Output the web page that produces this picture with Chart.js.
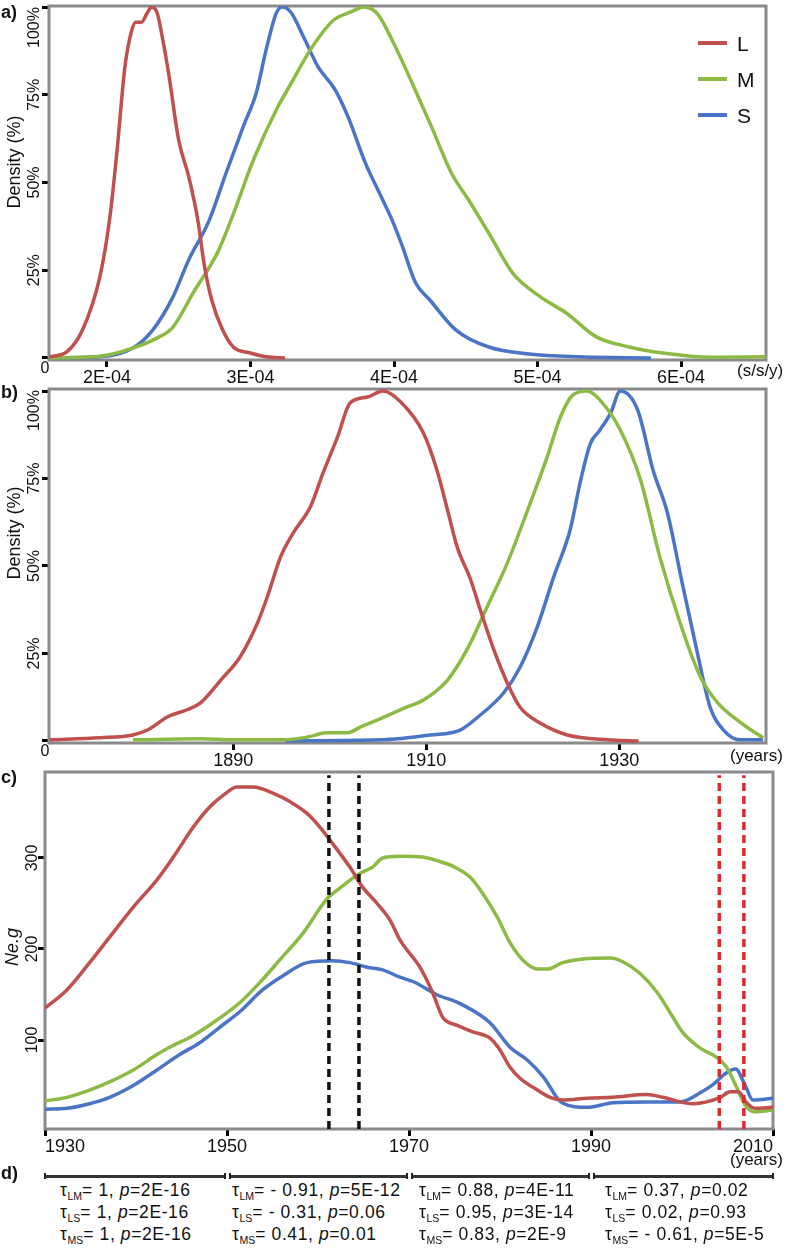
<!DOCTYPE html>
<html>
<head>
<meta charset="utf-8">
<script src="https://cdn.jsdelivr.net/npm/chart.js@4.4.1/dist/chart.umd.min.js"></script>
<style>
  body { margin: 0; background: #fff; font-family: "Liberation Sans", Arial, Helvetica, sans-serif; color: #111; }
  #page { position: relative; width: 787px; height: 1248px; overflow: hidden; }
  canvas { position: absolute; left: 0; }
  .txt { position: absolute; line-height: 1; white-space: nowrap; }
  .panel { font-size: 18px; font-weight: bold; }
  .ytitle { font-size: 18px; transform: translate(-50%, -50%) rotate(-90deg); }
  .unit { font-size: 17px; }
  .legend { position: absolute; left: 698px; top: 30px; margin: 0; padding: 0; list-style: none; }
  .legend li { position: relative; height: 36px; font-size: 21px; }
  .legend i { position: absolute; left: 0; top: 11px; width: 29px; height: 4px; }
  .legend span { position: absolute; left: 39px; top: 2px; }
  .seg { position: absolute; top: 1173px; height: 6px; border-left: 2px solid #222; border-right: 2px solid #222; }
  .seg::after { content: ""; position: absolute; left: 0; right: 0; top: 2px; height: 2.5px; background: #333; }
  .stats { position: absolute; top: 1179px; font-size: 17.5px; line-height: 22px; letter-spacing: 0.6px; white-space: nowrap; }
  .stats sub { font-size: 10.5px; line-height: 0; vertical-align: -4px; letter-spacing: 0; }
</style>
</head>
<body>
<div id="page">
  <canvas id="chart-a" width="787" height="386" style="top:0"></canvas>
  <canvas id="chart-b" width="787" height="384" style="top:386px"></canvas>
  <canvas id="chart-c" width="787" height="390" style="top:770px"></canvas>

  <div class="txt panel" style="left:1px;top:3px">a)</div>
  <div class="txt panel" style="left:1px;top:383px">b)</div>
  <div class="txt panel" style="left:1px;top:768px">c)</div>
  <div class="txt panel" style="left:1px;top:1164px">d)</div>

  <div class="txt ytitle" style="left:14px;top:162px">Density (%)</div>
  <div class="txt ytitle" style="left:14px;top:533px">Density (%)</div>
  <div class="txt ytitle" style="left:12px;top:947px"><i>Ne.g</i></div>

  <div class="txt unit" style="left:737px;top:362px">(s/s/y)</div>
  <div class="txt unit" style="left:730px;top:747px">(years)</div>
  <div class="txt unit" style="left:730px;top:1151px">(years)</div>

  <ul class="legend" id="legend-a"></ul>
  <div id="stats-d"></div>
</div>

<script>
/* ------------------------------
 * colours + fonts
 * ------------------------------ */
const COLORS = { L: '#c0504d', M: '#8cbb45', S: '#4a74c6' };
const DASH_BLACK = '#111';
const DASH_RED = '#dd2a30';
const FONT = '"Liberation Sans", Arial, Helvetica, sans-serif';

/* ------------------------------
 * a) substitution rate (x in units of 1E-04 s/s/y)
 * ------------------------------ */
const A_X_TICKS = [2, 3, 4, 5, 6];
const A_Y_TICKS = [0, 25, 50, 75, 100];

const A_L_X = [1.60, 1.72, 1.83, 1.95, 2.02, 2.07, 2.125, 2.17, 2.20, 2.24, 2.28, 2.31, 2.35, 2.38, 2.43, 2.50, 2.57, 2.63, 2.68, 2.73, 2.80, 2.88, 3.00, 3.11, 3.24];
const A_L_Y = [0.3, 1.7, 8, 23, 40, 59, 83, 93, 95.7, 95.7, 98.3, 100, 98.3, 92.6, 81, 62, 51.6, 40, 26, 16.5, 8.5, 3.1, 1.4, 0.3, 0];

const A_M_X = [1.60, 1.95, 2.18, 2.35, 2.46, 2.60, 2.77, 2.88, 3.02, 3.19, 3.28, 3.42, 3.58, 3.70, 3.79, 3.89, 4.01, 4.13, 4.26, 4.40, 4.52, 4.66, 4.83, 5.02, 5.20, 5.41, 5.64, 5.87, 6.22, 6.59];
const A_M_Y = [0, 0.5, 2.8, 5.7, 8.8, 18.5, 30, 41, 56.4, 71.5, 78, 88, 96.3, 98.6, 100, 97.8, 88.6, 78, 66, 52.7, 45, 35.6, 24, 17.4, 12.8, 6, 3.1, 1.4, 0.2, 0.3];

const A_S_X = [1.60, 1.95, 2.18, 2.32, 2.46, 2.57, 2.71, 2.83, 2.95, 3.04, 3.11, 3.18, 3.22, 3.28, 3.38, 3.47, 3.59, 3.68, 3.80, 3.91, 3.99, 4.06, 4.15, 4.25, 4.43, 4.66, 4.94, 5.29, 5.79];
const A_S_Y = [0, 0.3, 2.8, 8, 17.4, 28, 39, 52.7, 66, 75.5, 88, 98.3, 100, 98.6, 90.6, 83, 76.4, 68.7, 55.6, 46, 39, 31.6, 21.4, 16.5, 8, 3.1, 1.1, 0.3, 0];

/* ------------------------------
 * b) root age (years)
 * ------------------------------ */
const B_X_TICKS = [1890, 1910, 1930];
const B_Y_TICKS = [0, 25, 50, 75, 100];

const B_L_X = [1871, 1876.2, 1879.6, 1881.1, 1883.2, 1885.2, 1886.6, 1888.7, 1890.7, 1892.5, 1893.5, 1894.9, 1896.2, 1898, 1899.3, 1900.8, 1902.1, 1903.9, 1905.5, 1907.3, 1909.7, 1911.1, 1912.2, 1913.2, 1914.6, 1915.6, 1917, 1918.4, 1919.7, 1921.8, 1924.6, 1928.8, 1932];
const B_L_Y = [0.3, 0.9, 1.7, 3.1, 6.9, 8.9, 10.9, 17.4, 24, 33.7, 41, 52.6, 59.4, 67, 76.6, 86.9, 96.6, 98.3, 100, 97, 88, 77.4, 66, 55.4, 46, 37.4, 26, 16.5, 9.7, 5.1, 1.7, 0.3, 0];

const B_M_X = [1879.6, 1886.6, 1890, 1895.2, 1897.7, 1899.7, 1901.8, 1903.2, 1905.2, 1908, 1909.7, 1912.2, 1914.2, 1916.3, 1918.4, 1920.5, 1922.5, 1923.9, 1925.2, 1926.7, 1928, 1930.1, 1932.2, 1934.2, 1936.3, 1938.4, 1940.2, 1942.5, 1944.9];
const B_M_Y = [0.3, 0.6, 0.3, 0.3, 1.1, 2.3, 2.3, 4, 6.3, 9.7, 11.7, 17.4, 26, 38.3, 50.9, 66, 81, 92.6, 98.9, 100, 97.4, 88.9, 74.6, 52.6, 33.7, 18.3, 10.9, 5.4, 0.9];

const B_S_X = [1895.4, 1905.2, 1910.4, 1913.5, 1915.6, 1918, 1919.7, 1921.5, 1923.2, 1924.9, 1926, 1927, 1928, 1929.1, 1930.1, 1931.9, 1933.5, 1935, 1936.6, 1938.1, 1939.4, 1940.8, 1942.5, 1944.9];
const B_S_Y = [0, 0.3, 1.7, 3.1, 7.4, 13.7, 21, 32.6, 46.9, 60.3, 74.6, 85, 88.9, 93.7, 100, 94.6, 77.4, 65, 44, 25, 9.7, 3.1, 0.3, 0.3];

/* ------------------------------
 * c) Ne.g through time
 * ------------------------------ */
const C_X_TICKS = [1930, 1950, 1970, 1990, 2010];
const C_Y_TICKS = [100, 200, 300];
const C_BLACK_MARKS = [1961.2, 1964.5];
const C_RED_MARKS = [2004.1, 2006.8];

const C_L_X = [1930, 1932.4, 1934.9, 1937.1, 1939.7, 1942.3, 1944.1, 1946.3, 1948.1, 1949.6, 1951.1, 1952.9, 1955.1, 1956.9, 1958.8, 1960.2, 1961.6, 1963.5, 1964.9, 1966.5, 1967.9, 1969, 1971.2, 1972.6, 1973.7, 1975.3, 1977, 1978.9, 1980, 1981.1, 1982.2, 1984.1, 1985.5, 1986.9, 1989.6, 1992.4, 1996.1, 1997.9, 1999.8, 2001.2, 2002.7, 2004.2, 2005.3, 2006.2, 2007.1, 2008, 2010];
const C_L_Y = [135, 155, 185, 213, 246, 276, 301, 334, 356, 369, 378, 378, 371, 362, 349, 334, 316, 290, 268, 250, 232, 210, 180, 152, 125, 116, 109, 102, 89, 70, 58, 45, 37, 34, 36, 37, 40, 37, 32, 30, 32, 37, 43, 43, 31, 25, 26];

const C_M_X = [1930, 1932.4, 1934.9, 1937.1, 1939.7, 1942.3, 1943.7, 1946.3, 1948.9, 1951.4, 1953.6, 1955.8, 1958.4, 1960.9, 1962.4, 1964.6, 1966, 1967.1, 1969, 1971.5, 1973.4, 1974.8, 1976.7, 1978.1, 1979.7, 1981.1, 1982.5, 1984.1, 1985.2, 1986.9, 1989.1, 1992.1, 1993.5, 1995.4, 1997.3, 1998.7, 2000.1, 2002, 2003.8, 2004.9, 2006, 2006.9, 2008, 2010];
const C_M_Y = [33, 37, 45, 54, 67, 84, 92, 105, 122, 141, 163, 188, 218, 254, 267, 283, 290, 300, 302, 301, 296, 291, 279, 261, 235, 207, 188, 178, 178, 185, 189, 190, 186, 173, 152, 130, 108, 91, 81, 70, 48, 29, 21, 23];

const C_S_X = [1930, 1932.4, 1934.9, 1937.1, 1939.7, 1942.3, 1944.8, 1947, 1949.2, 1951.4, 1953.9, 1956.2, 1958.8, 1961.6, 1963.5, 1965.4, 1967.1, 1969, 1970.5, 1973, 1975.6, 1978.9, 1981.1, 1983, 1984.8, 1986.8, 1989.6, 1992.4, 1996.1, 1999.8, 2002, 2003.4, 2004.9, 2005.9, 2006.9, 2007.8, 2010];
const C_S_Y = [24, 25, 30, 37, 50, 67, 84, 97, 114, 131, 155, 171, 185, 187, 185, 180, 177, 169, 164, 150, 140, 119, 92, 78, 59, 31, 26, 31, 32, 32, 42, 51, 64, 68, 51, 34, 36];

/* ------------------------------
 * d) Kendall tau per 20-year period
 * ------------------------------ */
const D_BOUNDS = [1930, 1950, 1970, 1990, 2010];
const TAU_LM = ['1', '- 0.91', '0.88', '0.37'];
const P_LM = ['2E-16', '5E-12', '4E-11', '0.02'];
const TAU_LS = ['1', '- 0.31', '0.95', '0.02'];
const P_LS = ['2E-16', '0.06', '3E-14', '0.93'];
const TAU_MS = ['1', '0.41', '0.83', '- 0.61'];
const P_MS = ['2E-16', '0.01', '2E-9', '5E-5'];


/* ------------------------------
 * helpers
 * ------------------------------ */
function curve(label, xs, ys) {
  return {
    label: label,
    data: xs.map((x, i) => ({ x: x, y: ys[i] })),
    borderColor: COLORS[label],
    borderWidth: 3.5,
    pointRadius: 0,
    cubicInterpolationMode: 'monotone',
    fill: false
  };
}

function vline(x, yMin, yMax, color) {
  return {
    label: 'mark',
    data: [{ x: x, y: yMin }, { x: x, y: yMax }],
    borderColor: color,
    borderWidth: 3.5,
    borderDash: [8, 5],
    pointRadius: 0,
    fill: false
  };
}

// grey frame round the plot area
const framePlugin = {
  id: 'frame',
  beforeDatasetsDraw(chart) {
    const { ctx, chartArea } = chart;
    ctx.save();
    ctx.strokeStyle = '#8a8a8a';
    ctx.lineWidth = 3;
    ctx.strokeRect(chartArea.left, chartArea.top, chartArea.right - chartArea.left, chartArea.bottom - chartArea.top);
    ctx.restore();
  }
};

// y tick labels are written upright (rotated) as in the figure
const yLabelPlugin = {
  id: 'yLabels',
  afterDraw(chart, args, opts) {
    const { ctx, chartArea } = chart;
    const scale = chart.scales.y;
    ctx.save();
    ctx.fillStyle = '#111';
    ctx.font = '16px ' + FONT;
    ctx.textBaseline = 'middle';
    ctx.textAlign = 'center';
    scale.ticks.forEach(t => {
      const py = scale.getPixelForValue(t.value);
      if (t.value === 0) {
        ctx.fillText('0', chartArea.left - 4, py + 11);
        return;
      }
      const text = t.value + opts.suffix;
      const w = ctx.measureText(text).width;
      const cy = Math.max(py, chartArea.top + 1 + w / 2);
      ctx.save();
      ctx.translate(chartArea.left - opts.dx, cy);
      ctx.rotate(-Math.PI / 2);
      ctx.fillText(text, 0, 0);
      ctx.restore();
    });
    ctx.restore();
  }
};

function buildChart(id, cfg) {
  const tickGrid = { drawOnChartArea: false, drawTicks: true, tickLength: 7, tickWidth: 3, tickColor: '#000' };
  return new Chart(document.getElementById(id), {
    type: 'line',
    data: { datasets: cfg.datasets },
    plugins: [framePlugin, yLabelPlugin],
    options: {
      responsive: false,
      animation: false,
      devicePixelRatio: 1,
      layout: { padding: cfg.padding },
      scales: {
        x: {
          type: 'linear',
          min: cfg.xMin,
          max: cfg.xMax,
          afterBuildTicks: s => { s.ticks = cfg.xTicks.map(v => ({ value: v })); },
          afterFit: s => { s.height = cfg.xH; },
          grid: tickGrid,
          border: { display: false },
          ticks: {
            autoSkip: false,
            maxRotation: 0,
            minRotation: 0,
            padding: 0,
            align: cfg.xAlign || 'center',
            color: '#111',
            font: { size: 18, family: FONT },
            callback: cfg.xFormat
          }
        },
        y: {
          type: 'linear',
          min: cfg.yMin,
          max: cfg.yMax,
          afterBuildTicks: s => { s.ticks = cfg.yTicks.map(v => ({ value: v })); },
          afterFit: s => { s.width = cfg.yW; },
          grid: tickGrid,
          border: { display: false },
          ticks: { display: false }
        }
      },
      plugins: {
        legend: { display: false },
        tooltip: { enabled: false },
        yLabels: { suffix: cfg.ySuffix, dx: cfg.yLabelDx }
      }
    }
  });
}


/* ------------------------------
 * a)
 * ------------------------------ */
buildChart('chart-a', {
  datasets: [curve('L', A_L_X, A_L_Y), curve('M', A_M_X, A_M_Y), curve('S', A_S_X, A_S_Y)],
  padding: { top: 6, right: 21, left: 0, bottom: 0 },
  xMin: 1.596, xMax: 6.592, xTicks: A_X_TICKS, xH: 26,
  xFormat: v => v + 'E-04',
  yMin: -0.6, yMax: 100.3, yTicks: A_Y_TICKS, yW: 49,
  ySuffix: '%', yLabelDx: 14
});

/* ------------------------------
 * b)
 * ------------------------------ */
buildChart('chart-b', {
  datasets: [curve('L', B_L_X, B_L_Y), curve('M', B_M_X, B_M_Y), curve('S', B_S_X, B_S_Y)],
  padding: { top: 3, right: 21, left: 0, bottom: 0 },
  xMin: 1870.9, xMax: 1945.2, xTicks: B_X_TICKS, xH: 27,
  xFormat: v => String(v),
  yMin: -0.6, yMax: 100.6, yTicks: B_Y_TICKS, yW: 49,
  ySuffix: '%', yLabelDx: 14
});

/* ------------------------------
 * c)
 * ------------------------------ */
const C_Y_MIN = 2.2;
const C_Y_MAX = 394.5;
const chartC = buildChart('chart-c', {
  datasets: [
    ...C_BLACK_MARKS.map(x => vline(x, C_Y_MIN, 391, DASH_BLACK)),
    ...C_RED_MARKS.map(x => vline(x, C_Y_MIN, 391, DASH_RED)),
    curve('L', C_L_X, C_L_Y), curve('M', C_M_X, C_M_Y), curve('S', C_S_X, C_S_Y)
  ],
  padding: { top: 2, right: 14, left: 0, bottom: 0 },
  xMin: 1930, xMax: 2010, xTicks: C_X_TICKS, xH: 31, xAlign: 'inner',
  xFormat: v => String(v),
  yMin: C_Y_MIN, yMax: C_Y_MAX, yTicks: C_Y_TICKS, yW: 45,
  ySuffix: '', yLabelDx: 12
});

/* ------------------------------
 * legend (HTML)
 * ------------------------------ */
document.getElementById('legend-a').innerHTML = ['L', 'M', 'S'].map(k =>
  `<li><i style="background:${COLORS[k]}"></i><span>${k}</span></li>`
).join('');

/* ------------------------------
 * d) period bar + tau table, placed on panel c's time scale
 * ------------------------------ */
(function () {
  const xs = chartC.scales.x;
  const box = document.getElementById('stats-d');
  const colPad = [15, 5, 10, 14];   // text indent inside each period
  let html = '';
  for (let i = 0; i < D_BOUNDS.length - 1; i++) {
    const a = xs.getPixelForValue(D_BOUNDS[i]) + (i > 0 ? 1.5 : -1);
    const b = xs.getPixelForValue(D_BOUNDS[i + 1]) - (i < D_BOUNDS.length - 2 ? 1.5 : -1);
    html += `<div class="seg" style="left:${a}px;width:${b - a - 4}px"></div>`;
    const left = xs.getPixelForValue(D_BOUNDS[i]) + colPad[i];
    html += `<div class="stats" style="left:${left}px">` +
      `τ<sub>LM</sub>= ${TAU_LM[i]}, <i>p</i>=${P_LM[i]}<br>` +
      `τ<sub>LS</sub>= ${TAU_LS[i]}, <i>p</i>=${P_LS[i]}<br>` +
      `τ<sub>MS</sub>= ${TAU_MS[i]}, <i>p</i>=${P_MS[i]}</div>`;
  }
  box.innerHTML = html;
})();
</script>
</body>
</html>
